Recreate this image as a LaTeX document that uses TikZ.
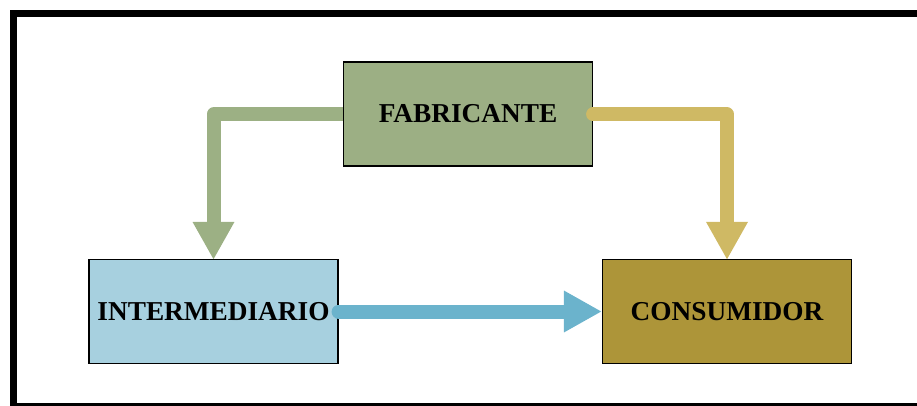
\documentclass[tikz,border=0pt]{standalone}
\usepackage{fontspec}
\setmainfont{Liberation Serif}
\usetikzlibrary{arrows.meta,backgrounds}

\definecolor{fabfill}{HTML}{9CAF84}
\definecolor{interfill}{HTML}{A7D0DF}
\definecolor{consfill}{HTML}{AD9539}
\definecolor{greenarrow}{HTML}{9CB084}
\definecolor{goldarrow}{HTML}{CFB964}
\definecolor{bluearrow}{HTML}{6BB3CC}

\tikzset{
  box/.style={draw=black, line width=1.2pt, minimum width=249pt, minimum height=104pt,
    inner sep=0pt, font=\fontsize{27.3}{30}\selectfont\bfseries},
  flow/.style={line width=14pt, line join=round,
    -{Triangle[length=38pt,width=39pt]}},
}

\begin{document}
\begin{tikzpicture}[x=1pt,y=-1pt]
  \useasboundingbox (0,0) rectangle (917,406);
  \clip (0,0) rectangle (917,406);

  % outer frame (runs off the right and bottom edges)
  \draw[line width=7pt] (13.5,13.5) rectangle (940,406.5);

  % boxes
  \node[box, fill=fabfill]   (fab)   at (468,114)   {FABRICANTE};
  \node[box, fill=interfill] (inter) at (213.5,311.5) {INTERMEDIARIO};
  \node[box, fill=consfill]  (cons)  at (727,311.5) {CONSUMIDOR};
  \coordinate (fabW) at ([yshift=-0.5pt]fab.west);

  % manufacturer to intermediary, tucked under the boxes
  \begin{scope}[on background layer]
    \draw[flow, greenarrow, line cap=round] (fabW) -| ([yshift=-1pt]inter.north);
  \end{scope}

  % flows drawn over the boxes
  \draw[flow, goldarrow, line cap=round] (fab.east |- fabW) -| ([yshift=-1pt]cons.north);
  \draw[flow, bluearrow, line cap=round] (inter.east) -- (cons.west);
\end{tikzpicture}
\end{document}
